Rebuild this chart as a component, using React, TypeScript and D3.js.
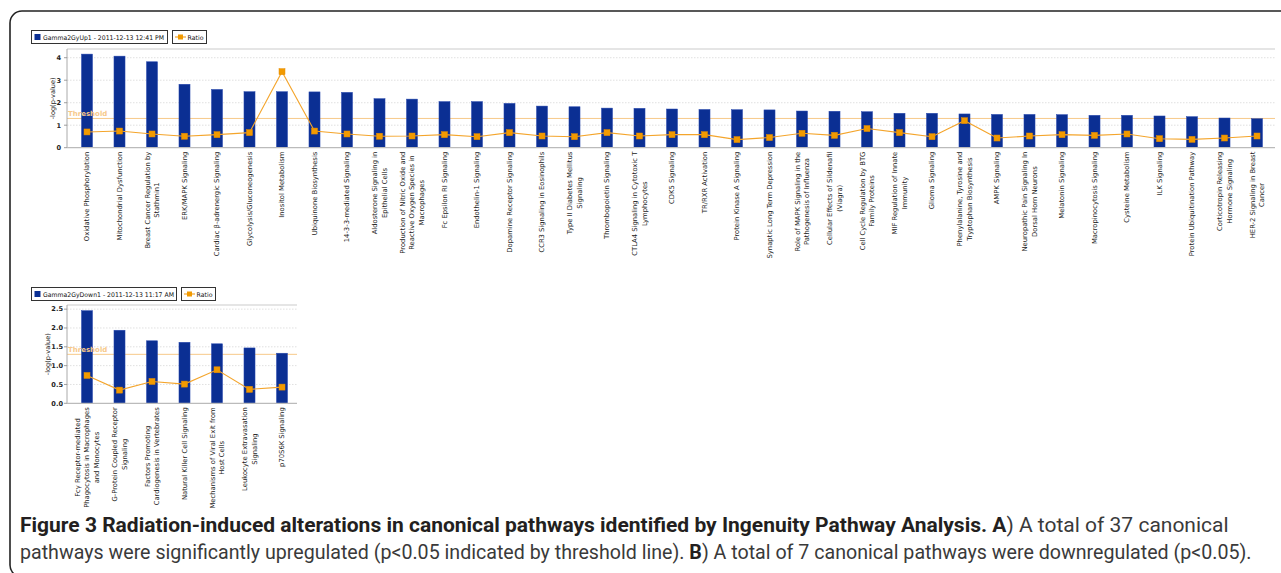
import React from "react";
import * as d3 from "d3";

// ---------- DATA ----------
const upCategories: string[] = [
  "Oxidative Phosphorylation",
  "Mitochondrial Dysfunction",
  "Breast Cancer Regulation by\nStathmin1",
  "ERK/MAPK Signaling",
  "Cardiac β-adrenergic Signaling",
  "Glycolysis/Gluconeogenesis",
  "Inositol Metabolism",
  "Ubiquinone Biosynthesis",
  "14-3-3-mediated Signaling",
  "Aldosterone Signaling in\nEpithelial Cells",
  "Production of Nitric Oxide and\nReactive Oxygen Species in\nMacrophages",
  "Fc Epsilon RI Signaling",
  "Endothelin-1 Signaling",
  "Dopamine Receptor Signaling",
  "CCR3 Signaling in Eosinophils",
  "Type II Diabetes Mellitus\nSignaling",
  "Thrombopoietin Signaling",
  "CTLA4 Signaling in Cytotoxic T\nLymphocytes",
  "CDK5 Signaling",
  "TR/RXR Activation",
  "Protein Kinase A Signaling",
  "Synaptic Long Term Depression",
  "Role of MAPK Signaling in the\nPathogenesis of Influenza",
  "Cellular Effects of Sildenafil\n(Viagra)",
  "Cell Cycle Regulation by BTG\nFamily Proteins",
  "MIF Regulation of Innate\nImmunity",
  "Glioma Signaling",
  "Phenylalanine, Tyrosine and\nTryptophan Biosynthesis",
  "AMPK Signaling",
  "Neuropathic Pain Signaling In\nDorsal Horn Neurons",
  "Melatonin Signaling",
  "Macropinocytosis Signaling",
  "Cysteine Metabolism",
  "ILK Signaling",
  "Protein Ubiquitination Pathway",
  "Corticotropin Releasing\nHormone Signaling",
  "HER-2 Signaling in Breast\nCancer",
];
const upValues: number[] = [
  4.16, 4.07, 3.82, 2.82, 2.59, 2.49, 2.49, 2.48, 2.46, 2.18,
  2.16, 2.05, 2.05, 1.97, 1.85, 1.82, 1.76, 1.75, 1.72, 1.70,
  1.69, 1.68, 1.63, 1.62, 1.60, 1.53, 1.53, 1.50, 1.48, 1.48,
  1.47, 1.44, 1.44, 1.41, 1.38, 1.32, 1.29,
];
const upRatios: number[] = [
  0.70, 0.74, 0.61, 0.51, 0.58, 0.67, 3.38, 0.74, 0.61, 0.51,
  0.52, 0.58, 0.49, 0.67, 0.52, 0.49, 0.67, 0.52, 0.58, 0.58,
  0.36, 0.45, 0.64, 0.55, 0.85, 0.67, 0.49, 1.20, 0.43, 0.52,
  0.58, 0.55, 0.61, 0.40, 0.37, 0.43, 0.52,
];
const upTicks: number[] = [0, 1, 2, 3, 4];
const upLegend = "Gamma2GyUp1 - 2011-12-13 12:41 PM";

const downCategories: string[] = [
  "Fcγ Receptor-mediated\nPhagocytosis in Macrophages\nand Monocytes",
  "G-Protein Coupled Receptor\nSignaling",
  "Factors Promoting\nCardiogenesis in Vertebrates",
  "Natural Killer Cell Signaling",
  "Mechanisms of Viral Exit from\nHost Cells",
  "Leukocyte Extravasation\nSignaling",
  "p70S6K Signaling",
];
const downValues: number[] = [2.46, 1.94, 1.66, 1.62, 1.58, 1.47, 1.33];
const downRatios: number[] = [0.74, 0.35, 0.58, 0.51, 0.89, 0.37, 0.43];
const downTicks: number[] = [0, 0.5, 1.0, 1.5, 2.0, 2.5];
const downLegend = "Gamma2GyDown1 - 2011-12-13 11:17 AM";

const THRESHOLD = 1.3;

// caption segments: [text, bold, space after]
const captionLine1: [string, boolean, boolean][] = [
  ["Figure 3 Radiation-induced alterations in canonical pathways identified by Ingenuity Pathway Analysis. A", true, false],
  [") A total of 37 canonical", false, false],
];
const captionLine2: [string, boolean, boolean][] = [
  ["pathways were significantly upregulated (p<0.05 indicated by threshold line).", false, true],
  ["B", true, false],
  [") A total of 7 canonical pathways were downregulated (p<0.05).", false, false],
];

// ---------- STYLE ----------
const BAR = "#0b2f93";
const ORANGE = "#f4a52c";
const MARK = "#f29a00";
const THRESH = "#f7c98a";
const LABEL_FONT = "'DejaVu Sans', Verdana, sans-serif";
const LABEL_SIZE = 6.8;
const CAPTION_FONT = "Roboto, 'Liberation Sans', sans-serif";
const CAPTION_BASE = 20;

let _ctx: CanvasRenderingContext2D | null = null;
function measure(text: string, font: string): number {
  if (!_ctx) {
    const c = document.createElement("canvas");
    _ctx = c.getContext("2d");
  }
  if (!_ctx) return text.length * 3.8;
  _ctx.font = font;
  return _ctx.measureText(text).width;
}

type ChartProps = {
  categories: string[];
  values: number[];
  ratios: number[];
  ticks: number[];
  tickFmt: (v: number) => string;
  legend: string;
  legendW: number;
  legendTextW: number;
  legendY: number;
  left: number;
  right: number;
  top: number;
  bottom: number;
  yMax: number;
  yLabelX: number;
  tickX: number;
};

function Chart(p: ChartProps) {
  const {
    categories, values, ratios, ticks, tickFmt, legend, legendW, legendTextW, legendY,
    left, right, top, bottom, yMax, yLabelX, tickX,
  } = p;
  const n = categories.length;
  const step = 32.5;
  const x = d3
    .scaleBand<number>()
    .domain(d3.range(n))
    .range([left + 3.75, left + 3.75 + n * step])
    .paddingInner(0.66)
    .paddingOuter(0.33);
  const y = d3.scaleLinear().domain([0, yMax]).range([bottom, top]);
  const bw = x.bandwidth();
  const cx = (i: number) => (x(i) as number) + bw / 2;
  const line = d3
    .line<number>()
    .x((_, i) => cx(i))
    .y((d) => y(d));
  const labelFont = `${LABEL_SIZE}px ${LABEL_FONT}`;
  const ratioX = 31 + legendW + 5;

  return (
    <g>
      {/* legend */}
      <rect x={31.5} y={legendY + 0.5} width={legendW} height={13} fill="#fff" stroke="#333" strokeWidth={1} />
      <rect x={34.5} y={legendY + 4} width={6} height={6} fill={BAR} />
      <text
        x={43}
        y={legendY + 9.6}
        fontSize={6.4}
        fontFamily={LABEL_FONT}
        fill="#111"
        textLength={legendTextW}
        lengthAdjust="spacingAndGlyphs"
      >
        {legend}
      </text>
      <rect x={ratioX + 0.5} y={legendY + 0.5} width={34} height={13} fill="#fff" stroke="#333" strokeWidth={1} />
      <line x1={ratioX + 3} x2={ratioX + 14} y1={legendY + 7} y2={legendY + 7} stroke={ORANGE} strokeWidth={1.2} />
      <rect x={ratioX + 6} y={legendY + 4.5} width={5} height={5} fill={MARK} />
      <text
        x={ratioX + 15.5}
        y={legendY + 9.6}
        fontSize={6.4}
        fontFamily={LABEL_FONT}
        fill="#111"
        textLength={16}
        lengthAdjust="spacingAndGlyphs"
      >
        Ratio
      </text>

      {/* grid */}
      {ticks
        .filter((t) => t > 0)
        .map((t) => (
          <line key={"g" + t} x1={left} x2={right} y1={y(t)} y2={y(t)} stroke="#d8d8d8" strokeWidth={0.8} strokeDasharray="1.5,1.5" />
        ))}
      <line x1={left} x2={right} y1={top} y2={top} stroke="#dcdcdc" strokeWidth={1.5} />

      {/* threshold line */}
      <line x1={left} x2={right} y1={y(THRESHOLD)} y2={y(THRESHOLD)} stroke={THRESH} strokeWidth={1} />

      {/* bars */}
      {values.map((v, i) => (
        <rect key={"b" + i} x={x(i)} y={y(v)} width={bw} height={bottom - y(v)} fill={BAR} stroke="#2a4ab0" strokeWidth={0.5} />
      ))}

      {/* threshold label (over bars) */}
      <text x={left + 1} y={y(THRESHOLD) - 2.5} fontSize={7} fontWeight="bold" fontFamily={LABEL_FONT} fill={THRESH}>
        Threshold
      </text>

      {/* ratio line */}
      <path d={line(ratios) || ""} fill="none" stroke={ORANGE} strokeWidth={1.1} />
      {ratios.map((r, i) => (
        <rect key={"m" + i} x={cx(i) - 3} y={y(r) - 3} width={6} height={6} fill={MARK} stroke="#e58c00" strokeWidth={0.5} />
      ))}

      {/* axes */}
      <line x1={left} x2={left} y1={top} y2={bottom} stroke="#aaa" strokeWidth={1} />
      <line x1={left} x2={right} y1={bottom} y2={bottom} stroke="#bbb" strokeWidth={1.2} />
      {ticks.map((t) => (
        <g key={"t" + t}>
          <line x1={left - 3} x2={left} y1={y(t)} y2={y(t)} stroke="#888" strokeWidth={0.8} />
          <text x={tickX} y={y(t)} dy="0.35em" textAnchor="end" fontSize={6.6} fontWeight="bold" fontFamily={LABEL_FONT} fill="#222">
            {tickFmt(t)}
          </text>
        </g>
      ))}
      <text
        transform={`translate(${yLabelX},${(top + bottom) / 2}) rotate(-90)`}
        textAnchor="middle"
        fontSize={6.6}
        fontFamily={LABEL_FONT}
        fill="#222"
      >
        -log(p-value)
      </text>

      {/* category labels */}
      {categories.map((c, i) => {
        const lines = c.split("\n");
        const maxW = Math.max(...lines.map((l) => measure(l, labelFont)));
        const k = lines.length;
        return (
          <g key={"c" + i}>
            {lines.map((l, j) => {
              const lx = cx(i) + (j - (k - 1) / 2) * 9.3;
              const ly = bottom + 4 + maxW / 2;
              return (
                <text
                  key={j}
                  transform={`translate(${lx},${ly}) rotate(-90)`}
                  textAnchor="middle"
                  dy="0.35em"
                  fontSize={LABEL_SIZE}
                  fontFamily={LABEL_FONT}
                  fill="#1a1a1a"
                >
                  {l}
                </text>
              );
            })}
          </g>
        );
      })}
    </g>
  );
}

// Caption line: the font size is chosen so the natural width fills the line; no glyph squeezing.
function CaptionLine({ segs, x0, y, width }: { segs: [string, boolean, boolean][]; x0: number; y: number; width: number }) {
  const fontOf = (b: boolean, s: number) => `${b ? "bold " : ""}${s}px ${CAPTION_FONT}`;
  const natural = (s: number) =>
    segs.reduce((a, [t, b, sp]) => a + measure(t, fontOf(b, s)) + (sp ? measure(" ", fontOf(false, s)) : 0), 0);
  const size = Math.min(21, (CAPTION_BASE * width) / natural(CAPTION_BASE));
  let acc = x0;
  return (
    <g>
      {segs.map(([t, b, sp], i) => {
        const w = measure(t, fontOf(b, size));
        const xx = acc;
        acc += w + (sp ? measure(" ", fontOf(false, size)) : 0);
        return (
          <text
            key={i}
            x={xx}
            y={y}
            fontSize={size}
            fontFamily={CAPTION_FONT}
            fontWeight={b ? "bold" : "normal"}
            fill={b ? "#231f20" : "#3a3a3a"}
          >
            {t}
          </text>
        );
      })}
    </g>
  );
}

export default function App() {
  return (
    <svg
      width={1281}
      height={573}
      style={{ position: "absolute", left: 0, top: 0, display: "block", background: "#fff" }}
    >
      <rect x={10} y={11} width={1320} height={566} rx={12} ry={12} fill="none" stroke="#222" strokeWidth={1.6} />

      <Chart
        categories={upCategories}
        values={upValues}
        ratios={upRatios}
        ticks={upTicks}
        tickFmt={(v) => String(v)}
        legend={upLegend}
        legendW={136}
        legendTextW={121}
        legendY={30}
        left={67}
        right={1275}
        top={49}
        bottom={147.7}
        yMax={4.387}
        yLabelX={55}
        tickX={61}
      />
      <Chart
        categories={downCategories}
        values={downValues}
        ratios={downRatios}
        ticks={downTicks}
        tickFmt={(v) => v.toFixed(1)}
        legend={downLegend}
        legendW={145}
        legendTextW={131}
        legendY={287}
        left={67}
        right={297}
        top={305}
        bottom={403.3}
        yMax={2.61}
        yLabelX={50}
        tickX={63}
      />

      <CaptionLine segs={captionLine1} x0={20} y={532} width={1216} />
      <CaptionLine segs={captionLine2} x0={20} y={559} width={1232} />
    </svg>
  );
}
